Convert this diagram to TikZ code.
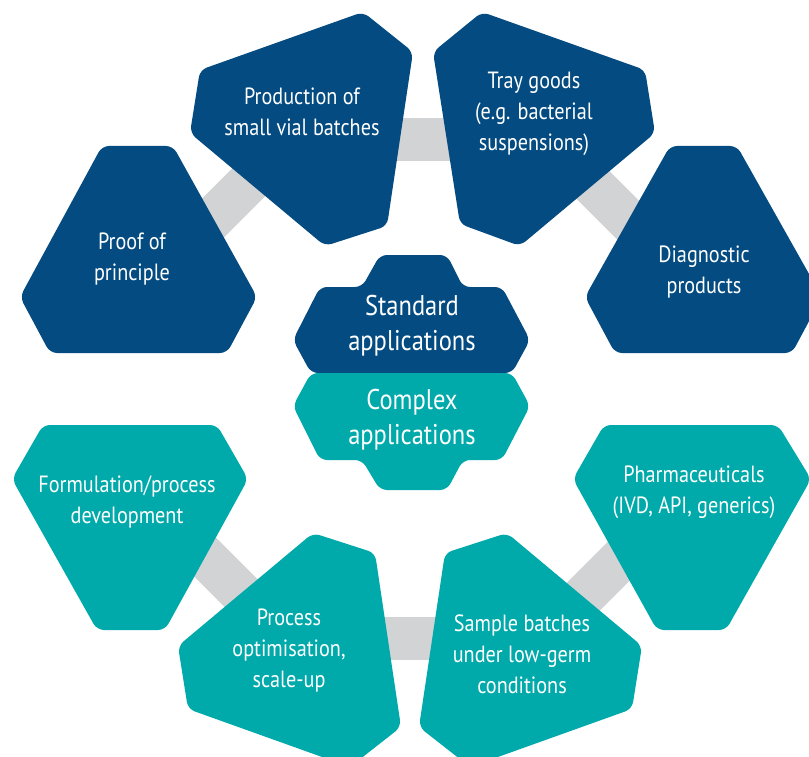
\documentclass[tikz,border=0pt]{standalone}
\usepackage{fontspec}
\setmainfont{PT Sans}[FakeStretch=0.86]
\usepackage{tikz}
\definecolor{appblue}{RGB}{3,75,128}
\definecolor{appteal}{RGB}{0,169,170}
\definecolor{appgrey}{RGB}{209,211,212}

\begin{document}
\begin{tikzpicture}[x=1pt,y=-1pt]
\tikzset{tile/.style={rounded corners=7pt},
  bluetile/.style={tile,fill=appblue},
  tealtile/.style={tile,fill=appteal},
  link/.style={draw=appgrey,line width=43pt},
  caption/.style={align=center,text=white,inner sep=0pt,font=\fontsize{23.5}{31}\selectfont},
  bigcaption/.style={caption,font=\fontsize{28.5}{35}\selectfont}}
\clip (0,0) rectangle (809,757);
\coordinate (proof-in) at (190,241);
\coordinate (prod-in) at (270,161);
\coordinate (prod-out) at (380,140);
\coordinate (tray-in) at (465,140);
\coordinate (tray-out) at (580,172);
\coordinate (diag-in) at (650,242);
\coordinate (form-out) at (180,532);
\coordinate (proc-in) at (270,622);
\coordinate (proc-out) at (375,638);
\coordinate (sample-in) at (445,638);
\coordinate (sample-out) at (550,630);
\coordinate (pharma-in) at (630,550);
\draw[link] (proof-in) -- (prod-in);
\draw[link] (prod-out) -- (tray-in);
\draw[link] (tray-out) -- (diag-in);
\draw[link] (form-out) -- (proc-in);
\draw[link] (proc-out) -- (sample-in);
\draw[link] (sample-out) -- (pharma-in);
\fill[bluetile] (102,146) -- (173,146) -- (257,297) -- (227,353) -- (50,353) -- (20,297) -- cycle;
\fill[bluetile] (200,70) -- (363,12) -- (413,52) -- (387,226) -- (325,246) -- (190,133) -- cycle;
\fill[bluetile] (433,52) -- (482,12) -- (645,70) -- (655,133) -- (520,246) -- (460,224) -- cycle;
\fill[bluetile] (670,146) -- (737,146) -- (822,297) -- (792,353) -- (615,353) -- (585,297) -- cycle;
\fill[tealtile] (43,425) -- (217,425) -- (248,479) -- (165,630) -- (97,630) -- (12,479) -- cycle;
\fill[tealtile] (188,709) -- (350,767) -- (401,727) -- (375,553) -- (313,533) -- (178,646) -- cycle;
\fill[tealtile] (632,709) -- (470,767) -- (419,727) -- (445,553) -- (507,533) -- (642,646) -- cycle;
\fill[tealtile] (604,425) -- (778,425) -- (811,479) -- (726,630) -- (657,630) -- (573,479) -- cycle;
\fill[bluetile] (380,255) -- (447,255) -- (463,287) -- (502,287) -- (530,340) -- (512,373) -- (311,373) -- (293,340) -- (320,287) -- (362,287) -- cycle;
\fill[tealtile] (311,373) -- (512,373) -- (530,406) -- (502,460) -- (463,460) -- (447,490) -- (380,490) -- (362,460) -- (320,460) -- (293,406) -- cycle;
\node[caption] (proof) at (132,259) {Proof of\\principle};
\node[caption] (prod) at (302,112) {Production of\\small vial batches};
\node[caption] (tray) at (534,114) {Tray goods\\(e.g. bacterial\\suspensions)};
\node[caption] (diag) at (704,272) {Diagnostic\\products};
\node[caption] (form) at (127,502) {Formulation/process\\development};
\node[caption] (proc) at (289,651) {Process\\optimisation,\\scale-up};
\node[caption] (sample) at (522,654) {Sample batches\\under low-germ\\conditions};
\node[caption] (pharma) at (694,492) {Pharmaceuticals\\(IVD, API, generics)};
\node[bigcaption] (standard) at (412,326) {Standard\\applications};
\node[bigcaption] (complex) at (412,420) {Complex\\applications};
\end{tikzpicture}
\end{document}
